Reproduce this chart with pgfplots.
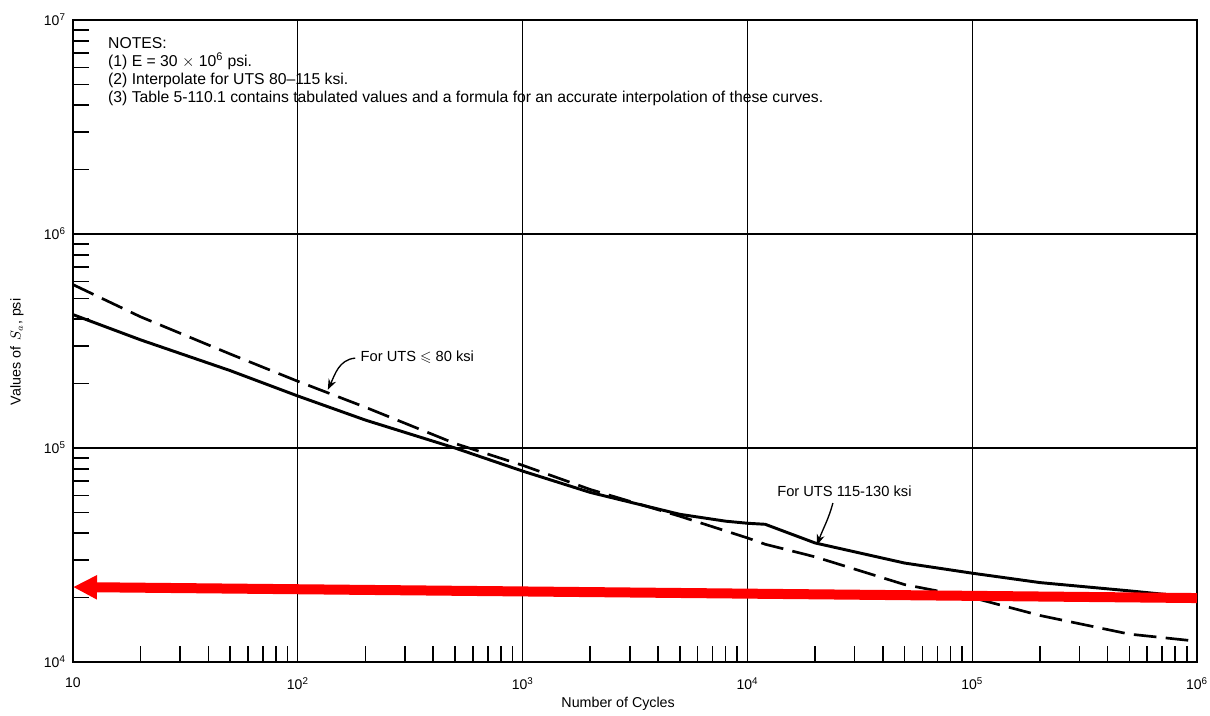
\documentclass[border=0pt]{standalone}
\usepackage{amssymb}
\usepackage{pgfplots}
\pgfplotsset{compat=1.18}
\usepackage{fontspec}
\setmainfont{Liberation Sans}
\usetikzlibrary{arrows.meta}

\pgfplotstableread{
x y
10 580000
20 410000
50 275000
100 205000
200 155000
500 105000
1000 83000
2000 64000
5000 48000
10000 38000
12000 35500
20000 31000
50000 23000
100000 20000
200000 16500
500000 13500
1000000 12500
}\lowuts

\pgfplotstableread{
x y
10 420000
20 320000
50 230000
100 175000
200 135000
500 100000
1000 78000
2000 62000
5000 49000
8000 45500
10000 44500
12000 44000
20000 36000
50000 29000
100000 26000
200000 23500
500000 21500
1000000 20000
}\highuts

\begin{document}
\begin{tikzpicture}
\path[use as bounding box] (-54.75pt,-39.75pt) rectangle (852.75pt,496.5pt);
\begin{axis}[
  at={(0pt,0pt)}, anchor=south west,
  scale only axis, width=843pt, height=481.5pt,
  xmode=log, ymode=log,
  xmin=10, xmax=1e6, ymin=1e4, ymax=1e7,
  clip=false,
  xtick={10,100,1000,10000,100000,1000000},
  xticklabels={10,10\textsuperscript{2},10\textsuperscript{3},10\textsuperscript{4},10\textsuperscript{5},10\textsuperscript{6}},
  ytick={10000,100000,1000000,10000000},
  yticklabels={10\textsuperscript{4},10\textsuperscript{5},10\textsuperscript{6},10\textsuperscript{7}},
  minor xtick={20,30,40,50,60,70,80,90,200,300,400,500,600,700,800,900,2000,3000,4000,5000,6000,7000,8000,9000,20000,30000,40000,50000,60000,70000,80000,90000,200000,300000,400000,500000,600000,700000,800000,900000},
  minor ytick={20000,30000,40000,50000,60000,70000,80000,90000,200000,300000,400000,500000,600000,700000,800000,900000,2000000,3000000,4000000,5000000,6000000,7000000,8000000,9000000},
  xtick pos=bottom, ytick pos=left,
  tick align=inside,
  major tick length=0pt, minor tick length=12pt,
  tick style={black, line width=1.2pt},
  xmajorgrids, ymajorgrids,
  major grid style={black, line width=0.9pt},
  axis line style={black, line width=2.2pt},
  ticklabel style={font=\fontsize{10.5}{12}\selectfont},
  xticklabel style={yshift=-8pt},
  yticklabel style={xshift=-2pt},
  xlabel={Number of Cycles},
  ylabel={Values of \,$S_a$, psi},
  label style={font=\fontsize{10.7}{12}\selectfont},
  xlabel style={at={(axis description cs:0.485,0)}, anchor=center, yshift=-31pt},
  ylabel style={at={(axis description cs:-0.0498,0.483)}, anchor=center},
]
\addplot[black, line width=2pt, dash pattern=on 17pt off 7pt] table[x=x,y=y] {\lowuts};
\addplot[black, line width=2.2pt, line join=round] table[x=x,y=y] {\highuts};

\node[anchor=west, font=\fontsize{11}{13}\selectfont, inner sep=0pt] at (axis cs:190,266000) {For UTS $\leqslant$ 80 ksi};
\draw[black, line width=1pt, -{Stealth[length=8pt,width=6pt]}] (axis cs:180,263000) to[out=185, in=65] (axis cs:136,187000);

\node[anchor=west, font=\fontsize{11}{13}\selectfont, inner sep=0pt] at (axis cs:13550,63000) {For UTS 115-130 ksi};
\draw[black, line width=1pt, -{Stealth[length=8pt,width=6pt]}] (axis cs:24000,55300) to[out=-105, in=70] (axis cs:20400,35200);

\node[anchor=north west, align=left, inner sep=0pt, font=\fontsize{11.8}{13.5}\selectfont] at (axis cs:14.3,8330000)
{NOTES:\\
(1) E = 30 $\times$ 10\textsuperscript{6} psi.\\
(2) Interpolate for UTS 80--115 ksi.\\
(3) Table 5-110.1 contains tabulated values and a formula for an accurate interpolation of these curves.};

\addplot[red, line width=7.5pt, -{Triangle[length=18pt,width=17pt]}] coordinates {(1000000,19900) (10,22400)};
\end{axis}
\end{tikzpicture}
\end{document}
